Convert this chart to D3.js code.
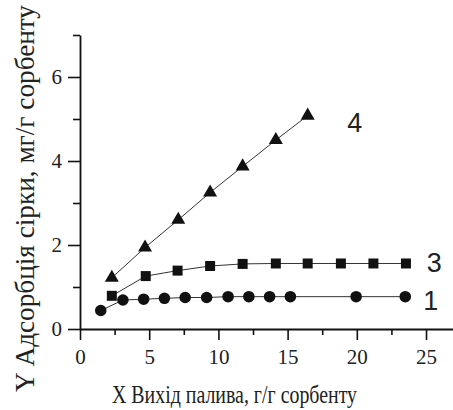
<!DOCTYPE html>
<html>
<head>
<meta charset="utf-8">
<script src="https://cdn.jsdelivr.net/npm/d3@7"></script>
<style>
  body { margin: 0; background: #fff; }
  svg { display: block; }
</style>
</head>
<body>
<svg width="453" height="410"></svg>
<script>
  // series 1 (circles)
  var x1 = [1.5, 3.1, 4.6, 6.1, 7.6, 9.15, 10.7, 12.2, 13.7, 15.2, 19.95, 23.5];
  var y1 = [0.44, 0.69, 0.71, 0.73, 0.75, 0.75, 0.77, 0.77, 0.77, 0.77, 0.77, 0.77];
  // series 3 (squares)
  var x3 = [2.3, 4.75, 7.05, 9.4, 11.75, 14.15, 16.45, 18.85, 21.2, 23.55];
  var y3 = [0.79, 1.26, 1.39, 1.50, 1.55, 1.56, 1.56, 1.56, 1.56, 1.56];
  // series 4 (triangles)
  var x4 = [2.3, 4.7, 7.1, 9.4, 11.75, 14.15, 16.45];
  var y4 = [1.22, 1.94, 2.6, 3.25, 3.87, 4.5, 5.08];

  var xMajor = [0, 5, 10, 15, 20, 25];
  var xMinor = [2.5, 7.5, 12.5, 17.5, 22.5];
  var yMajor = [0, 2, 4, 6];
  var yMinor = [1, 3, 5, 7];

  var xTitle = "X Вихід палива, г/г сорбенту";
  var yTitle = "Y Адсорбція сірки, мг/г сорбенту";

  var serif = "'Times New Roman', 'Liberation Serif', 'DejaVu Serif', serif";
  var sans = "Arial, 'Liberation Sans', sans-serif";

  var svg = d3.select("svg");

  var x = d3.scaleLinear().domain([0, 27]).range([80, 453.7]);
  var y = d3.scaleLinear().domain([0, 7]).range([329, 35]);

  // minor ticks first
  svg.append("g")
      .attr("transform", "translate(0,329)")
      .call(d3.axisBottom(x).tickValues(xMinor).tickSize(6).tickFormat(""))
      .call(function(g){ g.select(".domain").remove(); });
  svg.append("g")
      .attr("transform", "translate(80,0)")
      .call(d3.axisLeft(y).tickValues(yMinor).tickSize(7).tickFormat(""))
      .call(function(g){ g.select(".domain").remove(); });

  svg.append("g")
      .attr("transform", "translate(0,329)")
      .call(d3.axisBottom(x).tickValues(xMajor).tickFormat(d3.format("d"))
        .tickSize(11).tickSizeOuter(0).tickPadding(9.5));
  svg.append("g")
      .attr("transform", "translate(80,0)")
      .call(d3.axisLeft(y).tickValues(yMajor).tickFormat(d3.format("d"))
        .tickSize(12).tickSizeOuter(0).tickPadding(6));

  svg.selectAll(".tick line").attr("stroke", "#111").attr("stroke-width", 1.6);
  svg.selectAll(".domain").attr("stroke", "#111").attr("stroke-width", 1.8);
  svg.selectAll(".tick text")
      .style("font-family", serif)
      .style("font-size", "21px")
      .attr("fill", "#222");

  // axis titles
  svg.append("text")
      .attr("x", 112)
      .attr("y", 403)
      .style("font-family", serif)
      .style("font-size", "26px")
      .attr("textLength", 245)
      .attr("lengthAdjust", "spacingAndGlyphs")
      .attr("fill", "#222")
      .text(xTitle);

  svg.append("text")
      .attr("transform", "translate(34,392) rotate(-90)")
      .style("font-family", serif)
      .style("font-size", "27px")
      .attr("textLength", 387)
      .attr("lengthAdjust", "spacingAndGlyphs")
      .attr("fill", "#222")
      .text(yTitle);

  var line = d3.line()
      .x(function(d){ return x(d[0]); })
      .y(function(d){ return y(d[1]); });

  function drawSeries(xs, ys, symbolType, size) {
    var pts = xs.map(function(v, i){ return [v, ys[i]]; });
    svg.append("path")
        .datum(pts)
        .attr("d", line)
        .attr("fill", "none")
        .attr("stroke", "#333")
        .attr("stroke-width", 1);
    svg.append("g").selectAll("path")
        .data(pts)
        .enter()
        .append("path")
        .attr("transform", function(d){ return "translate(" + x(d[0]) + "," + y(d[1]) + ")"; })
        .attr("d", d3.symbol().type(symbolType).size(size))
        .attr("fill", "#111");
  }

  drawSeries(x1, y1, d3.symbolCircle, 105);
  drawSeries(x3, y3, d3.symbolSquare, 100);
  drawSeries(x4, y4, d3.symbolTriangle, 85);

  // series labels
  var labelNames = ["4", "3", "1"];
  var labelX = [19.3, 25.05, 24.8];
  var labelY = [4.69, 1.36, 0.45];
  svg.append("g").selectAll("text")
      .data(labelNames)
      .enter()
      .append("text")
      .attr("x", function(d, i){ return x(labelX[i]); })
      .attr("y", function(d, i){ return y(labelY[i]); })
      .style("font-family", sans)
      .style("font-size", "27px")
      .attr("fill", "#222")
      .text(function(d){ return d; });
</script>
</body>
</html>
